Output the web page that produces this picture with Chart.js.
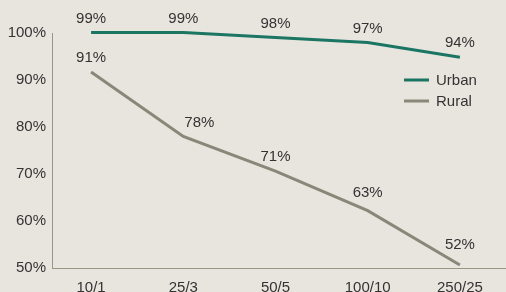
<!DOCTYPE html>
<html>
<head>
<meta charset="utf-8">
<script src="https://cdn.jsdelivr.net/npm/chart.js@4.4.1/dist/chart.umd.min.js"></script>
<style>
  html, body { margin: 0; padding: 0; background: #e8e5de; }
  #wrap { width: 506px; height: 292px; }
</style>
</head>
<body>
<div id="wrap"><canvas id="chart"></canvas></div>
<script>
// broadband speed tiers (down/up Mbps)
const speeds = ['10/1', '25/3', '50/5', '100/10', '250/25'];
const urban = [99, 99, 98, 97, 94];
const rural = [91, 78, 71, 63, 52];
const yTicks = [50, 60, 70, 80, 90, 100];

const textColor = '#333333';
const axisColor = '#9b9586';
const fontStr = "15px 'Liberation Sans', Arial, sans-serif";

Chart.defaults.font.family = "'Liberation Sans', Arial, sans-serif";
Chart.defaults.font.size = 15;
Chart.defaults.color = textColor;

// value labels above each point + small legend inside the plot
const labelsPlugin = {
  id: 'pointLabels',
  afterDatasetsDraw(chart, args, opts) {
    const ctx = chart.ctx;
    ctx.save();
    ctx.font = fontStr;
    ctx.fillStyle = textColor;
    ctx.textAlign = 'center';
    ctx.textBaseline = 'middle';
    chart.data.datasets.forEach((ds, di) => {
      const meta = chart.getDatasetMeta(di);
      const nudge = (opts.nudge && opts.nudge[ds.label]) || {};
      meta.data.forEach((pt, i) => {
        const [dx, dy] = nudge[i] || [0, 0];
        ctx.fillText(ds.data[i].y + '%', pt.x + dx, pt.y - 14 + dy);
      });
    });
    ctx.restore();
  },
  afterDraw(chart) {
    const ctx = chart.ctx;
    ctx.save();
    ctx.font = fontStr;
    ctx.textBaseline = 'middle';
    ctx.textAlign = 'left';
    chart.data.datasets.forEach((ds, di) => {
      const y = 80 + di * 21;
      ctx.strokeStyle = ds.borderColor;
      ctx.lineWidth = 3;
      ctx.beginPath();
      ctx.moveTo(404, y);
      ctx.lineTo(429, y);
      ctx.stroke();
      ctx.fillStyle = textColor;
      ctx.fillText(ds.label, 436, y + 1);
    });
    ctx.restore();
  }
};

const toPoints = arr => arr.map((v, i) => ({ x: i, y: v }));

new Chart(document.getElementById('chart'), {
  type: 'line',
  data: {
    datasets: [
      {
        label: 'Urban',
        data: toPoints(urban),
        borderColor: '#1b7563',
        borderWidth: 3,
        pointRadius: 0,
        tension: 0,
        clip: false,
        yAxisID: 'yv'
      },
      {
        label: 'Rural',
        data: toPoints(rural),
        borderColor: '#898779',
        borderWidth: 3,
        pointRadius: 0,
        tension: 0,
        clip: false,
        yAxisID: 'yv'
      }
    ]
  },
  plugins: [labelsPlugin],
  options: {
    responsive: true,
    maintainAspectRatio: false,
    animation: false,
    layout: { padding: { top: 33, left: 0, right: 0, bottom: 0 } },
    plugins: {
      legend: { display: false },
      tooltip: { enabled: false },
      pointLabels: { nudge: { Rural: { 1: [16, 0], 3: [0, -4], 4: [0, -6] } } }
    },
    scales: {
      x: {
        type: 'linear',
        min: -0.424,
        max: 4.5,
        grid: { display: false, drawTicks: false },
        border: { display: true, color: axisColor, width: 1 },
        afterBuildTicks: s => { s.ticks = speeds.map((_, i) => ({ value: i })); },
        afterFit: s => { s.height = 24; },
        ticks: {
          padding: 11,
          maxRotation: 0,
          callback: v => speeds[v]
        }
      },
      y: {
        position: 'left',
        min: 50,
        max: 100,
        grid: { display: false, drawTicks: false },
        border: { display: true, color: axisColor, width: 1 },
        afterBuildTicks: s => { s.ticks = yTicks.map(v => ({ value: v })); },
        afterFit: s => { s.width = 52; },
        ticks: {
          padding: 6,
          callback: v => v + '%'
        }
      },
      // plotting scale used by the lines in the original graphic
      yv: {
        display: false,
        min: 51.4,
        max: 98.9
      }
    }
  }
});
</script>
</body>
</html>
